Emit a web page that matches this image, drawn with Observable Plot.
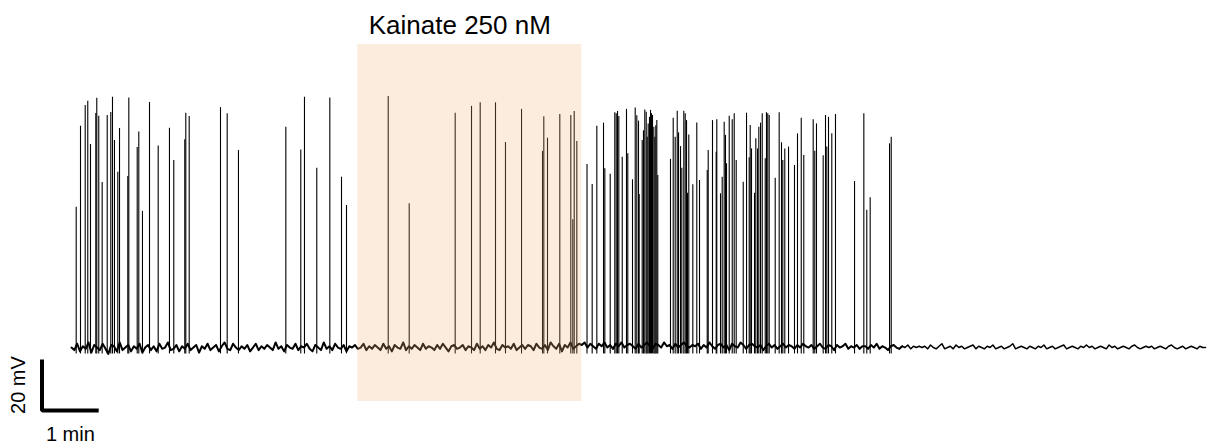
<!DOCTYPE html>
<html>
<head>
<meta charset="utf-8">
<script src="https://cdn.jsdelivr.net/npm/d3@7"></script>
<script src="https://cdn.jsdelivr.net/npm/@observablehq/plot@0.6"></script>
<style>
  html, body { margin: 0; padding: 0; background: #ffffff; }
  svg { display: block; }
</style>
</head>
<body>
<div id="chart"></div>
<script>
// ---- data (time in minutes, voltage in mV) ----
const restingPotential = -65;
const spikeTrough = -67.5;
const sampleInterval = 0.05; // min between baseline samples
const quietAfter = 14.6;     // firing stops here; baseline noise is smaller afterwards
const kainateStart = 5.05;
const kainateEnd = 9.0;
const kainateLabel = "Kainate 250 nM";
const shadeTop = 53.85;
const shadeBottom = -86.15;

const spikeTimes = [
  0.083,0.159,0.242,0.287,0.335,0.429,0.446,0.481,0.541,0.630,0.693,0.723,0.758,0.817,0.847,0.993,1.011,1.159,1.187,1.252,1.376,1.529,1.728,1.804,1.998,2.016,2.076,2.628,2.746,2.945,3.780,4.044,4.109,4.326,4.556,4.762,4.850,
  5.586,5.956,6.767,7.055,7.208,7.478,7.654,7.937,8.307,8.330,8.395,8.612,8.806,8.841,8.866,8.912,9.092,
  9.183,9.265,9.383,9.406,9.501,9.582,9.607,9.630,9.653,9.713,9.788,9.811,9.894,9.942,9.970,10.000,10.012,10.065,10.088,10.111,10.136,10.153,10.171,10.194,10.212,10.229,10.247,10.270,10.288,10.305,10.323,10.340,
  10.564,10.612,10.647,10.683,10.706,10.741,10.764,10.799,10.824,10.847,10.864,10.887,10.958,11.028,11.076,11.212,11.229,11.305,11.370,11.381,11.446,11.476,11.511,11.534,11.552,11.600,11.653,11.688,11.723,11.847,11.905,11.952,11.970,11.993,12.046,12.069,12.099,12.122,12.152,12.182,12.235,12.257,12.280,12.305,12.411,12.481,12.522,12.545,12.580,12.646,12.751,12.804,12.870,12.915,13.081,13.109,13.139,13.257,13.298,13.321,13.351,13.409,13.474,13.810,13.974,14.026,14.086,14.427,14.457
];
const spikePeaks = [
  -10.0,21.8,29.9,31.6,14.6,26.8,32.8,25.7,-0.3,26.0,27.2,33.2,16.2,3.7,20.9,2.1,32.9,13.5,19.5,-11.6,31.1,14.0,21.0,8.4,16.5,26.9,25.6,29.1,26.7,12.3,21.4,12.5,33.2,5.3,32.9,1.8,-9.3,
  33.5,-8.6,26.9,29.6,31.0,31.0,15.4,28.4,11.9,25.5,17.1,26.4,26.0,-14.9,27.6,15.8,6.8,
  -1.1,21.8,23.0,5.1,3.0,27.1,26.7,27.6,25.6,9.6,28.4,11.0,0.8,28.9,25.9,23.8,-5.0,16.2,20.0,28.2,27.3,17.5,22.7,25.3,28.0,26.7,26.0,21.4,17.5,22.0,24.0,2.5,
  8.8,24.9,17.5,27.7,19.2,13.8,5.3,27.7,26.7,24.0,-4.5,18.4,-1.2,23.1,0.5,4.4,12.3,24.0,11.6,24.3,-4.7,1.8,23.4,18.2,7.1,25.7,24.3,26.7,8.4,-0.2,26.9,9.4,22.1,12.9,-4.5,16.9,12.9,21.4,23.0,26.7,9.0,27.1,26.7,26.0,1.4,27.1,15.3,8.4,12.9,13.6,6.4,18.8,24.9,10.3,24.3,12.0,22.7,10.2,26.0,13.6,25.3,18.8,26.4,0.1,26.7,-11.2,-6.3,14.9,17.5
];

// baseline deviations from rest, in units of 0.5 mV, one per sample (20 per minute)
const noise = [
  0,-2,3,-3,1,-1,4,-4,2,0,-2,3,-1,-5,2,1,-3,4,-2,0,
  2,-3,1,-1,3,-4,0,2,-2,1,-3,3,-1,0,4,-2,-1,2,-3,1,
  -1,3,-2,0,2,-4,1,-1,3,-2,0,2,-3,1,4,-1,-2,3,0,-2,
  1,-1,2,-3,0,3,-2,1,-1,2,0,-2,4,-1,1,-3,2,0,-1,3,
  -2,1,0,3,-1,-3,2,0,-2,4,-1,1,-2,3,0,-1,2,-3,1,0,
  2,-1,0,3,-2,1,-1,2,0,-2,3,-1,1,-3,2,0,-1,4,-2,1,
  -1,2,0,-2,3,-1,1,0,-2,2,-1,3,0,-3,1,2,-1,0,2,-2,
  1,0,-2,3,-1,1,-2,2,0,4,-1,-2,2,0,1,-1,3,-2,0,2,
  -1,2,1,-2,3,0,-1,2,-2,4,1,-1,3,-3,2,0,4,-1,1,3,
  2,4,0,3,1,-1,3,1,4,0,2,-1,3,1,4,0,2,3,1,-1,
  3,0,2,4,1,-1,3,2,0,4,1,2,-1,3,0,2,4,1,0,2,
  1,3,-1,2,0,4,1,-1,2,3,0,2,-2,3,1,0,4,2,-1,2,
  3,1,0,2,-2,1,3,0,2,-1,1,3,0,2,1,-1,2,0,3,1,
  0,2,-1,1,3,0,-1,2,1,-2,2,0,1,3,-1,1,0,2,-1,1,
  1,-1,2,0,3,-1,1,0,-2,1,2,0,-1,1,0,2,-1,1,0,1,
  0,1,-1,2,0,-1,1,3,-1,0,1,-1,2,0,1,-1,0,1,2,-1,
  1,0,-1,1,0,2,-1,0,1,-1,0,1,3,-1,0,1,0,-1,1,0,
  -1,1,0,2,-1,0,1,-1,0,1,2,-1,0,1,0,-1,1,0,2,0,
  1,-1,0,1,0,-1,2,0,1,-1,0,1,0,-1,1,2,0,-1,0,1,
  0,1,-1,0,1,0,-1,1,2,0,-1,0,1,-1,0,1,0,-1,1,0,
  0
];

// scale bar
const scaleBarX = -0.52;
const scaleBarY = -89.7;
const scaleBarMinutes = 1;
const scaleBarMillivolts = 20;
const scaleBarTimeLabel = "1 min";
const scaleBarVoltLabel = "20 mV";

// ---- build tables ----
const baseline = noise.map((d, i) => ({t: i * sampleInterval, v: restingPotential + d * 0.5}));
const baselineActive = baseline.filter(d => d.t <= quietAfter + sampleInterval);
const baselineQuiet = baseline.filter(d => d.t >= quietAfter);
const spikes = spikeTimes.map((t, i) => ({t, peak: spikePeaks[i]}));
const scaleBar = [
  {t: scaleBarX, v: scaleBarY + scaleBarMillivolts},
  {t: scaleBarX, v: scaleBarY},
  {t: scaleBarX + scaleBarMinutes, v: scaleBarY}
];

const chart = Plot.plot({
  width: 1207,
  height: 448,
  marginLeft: 0, marginRight: 0, marginTop: 0, marginBottom: 0,
  x: {domain: [-1.252, 20.035], axis: null},
  y: {domain: [-104.59, 71.1], axis: null},
  style: {fontFamily: "'Liberation Sans', Arial, sans-serif", background: "#ffffff", color: "#000"},
  marks: [
    Plot.line(baselineActive, {x: "t", y: "v", stroke: "#000", strokeWidth: 2}),
    Plot.line(baselineQuiet, {x: "t", y: "v", stroke: "#000", strokeWidth: 1.5}),
    Plot.ruleX(spikes, {x: "t", y1: spikeTrough, y2: "peak", stroke: "#000", strokeWidth: 1.1}),
    Plot.rect([{x1: kainateStart, x2: kainateEnd, y1: shadeBottom, y2: shadeTop}],
      {x1: "x1", x2: "x2", y1: "y1", y2: "y2", fill: "#f5b57a", fillOpacity: 0.25}),
    Plot.text([kainateLabel], {x: (kainateStart + kainateEnd) / 2, y: 58.0, text: d => d,
      fontSize: 26, lineAnchor: "bottom", textAnchor: "middle", dx: -10, fill: "#000"}),
    Plot.line(scaleBar, {x: "t", y: "v", stroke: "#000", strokeWidth: 4, strokeLinejoin: "miter", strokeLinecap: "butt"}),
    Plot.text([scaleBarTimeLabel], {x: scaleBarX + scaleBarMinutes / 2, y: -101.8, text: d => d,
      fontSize: 20, lineAnchor: "bottom", textAnchor: "middle", fill: "#000"}),
    Plot.text([scaleBarVoltLabel], {x: -0.926, y: scaleBarY + scaleBarMillivolts / 2, text: d => d,
      fontSize: 20, rotate: -90, textAnchor: "middle", fill: "#000"})
  ]
});
document.getElementById("chart").appendChild(chart);
</script>
</body>
</html>
